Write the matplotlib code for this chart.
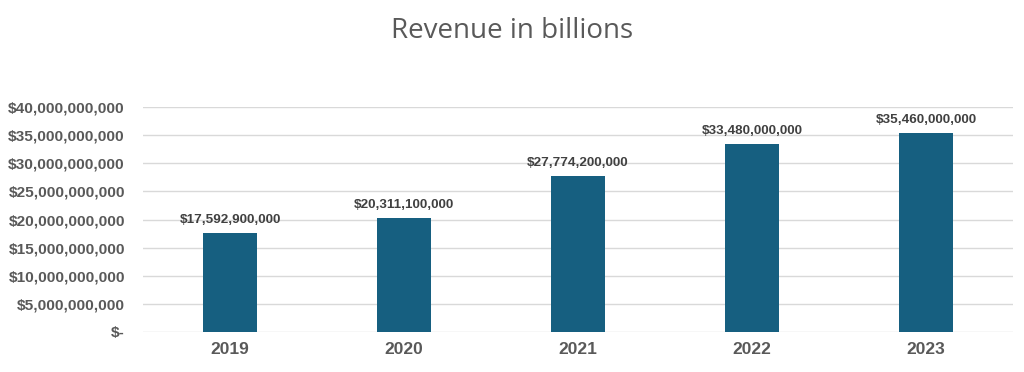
import matplotlib
matplotlib.use("Agg")
import matplotlib.pyplot as plt
from matplotlib.ticker import FuncFormatter

years = ["2019", "2020", "2021", "2022", "2023"]
revenue = [17592900000, 20311100000, 27774200000, 33480000000, 35460000000]
yticks = [0, 5e9, 10e9, 15e9, 20e9, 25e9, 30e9, 35e9, 40e9]

fig = plt.figure(figsize=(10.24, 3.72), dpi=100)
ax = fig.add_axes([143/1024, 40/372, 870/1024, 225/372])

x = range(len(years))
bars = ax.bar(x, revenue, width=0.31, color="#165f80", zorder=3)
ax.set_xlim(-0.5, len(years) - 0.5)
ax.set_ylim(0, 40e9)
ax.set_yticks(yticks)

def fmt(v, pos):
    if v == 0:
        return "$-"
    return "${:,.0f}".format(v)

ax.yaxis.set_major_formatter(FuncFormatter(fmt))
ax.set_xticks(list(x))
ax.set_xticklabels(years)
ax.grid(axis="y", color="#d9d9d9", linewidth=1, zorder=0)
for s in ax.spines.values():
    s.set_visible(False)
ax.tick_params(axis="both", length=0)
ax.tick_params(axis="y", pad=13)
ax.tick_params(axis="x", pad=7)
for lbl in ax.get_yticklabels():
    lbl.set_fontfamily("Liberation Sans")
    lbl.set_fontweight("bold")
    lbl.set_fontsize(11.1)
    lbl.set_color("#595959")
for lbl in ax.get_xticklabels():
    lbl.set_fontfamily("Liberation Sans")
    lbl.set_fontweight("bold")
    lbl.set_fontsize(12.5)
    lbl.set_color("#595959")

for xi, v in zip(x, revenue):
    ax.annotate("${:,.0f}".format(v), (xi, v), xytext=(0, 5), textcoords="offset points",
                ha="center", va="bottom", fontfamily="Liberation Sans", fontweight="bold",
                fontsize=9.7, color="#404040")

fig.text(0.5, 1 - 37.5/372, "Revenue in billions", ha="center", va="baseline",
         fontfamily="Open Sans", fontsize=20, color="#595959")

fig.savefig("out.png", dpi=100, facecolor="white")
